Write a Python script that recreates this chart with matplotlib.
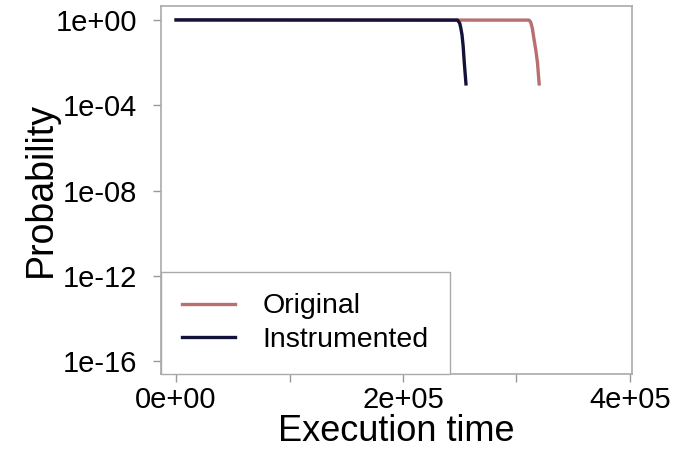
import matplotlib
matplotlib.use("Agg")
import matplotlib.pyplot as plt

plt.rcParams['font.family'] = ['Liberation Sans', 'DejaVu Sans']

# survival curves
orig_t = [0, 3.11e5, 3.125e5, 3.14e5, 3.155e5, 3.17e5, 3.185e5, 3.20e5]
orig_p = [1.0, 0.98, 0.8, 0.4, 0.12, 0.04, 0.01, 0.001]
instr_t = [0, 2.48e5, 2.50e5, 2.51e5, 2.52e5, 2.53e5, 2.54e5, 2.555e5]
instr_p = [1.0, 0.98, 0.7, 0.4, 0.2, 0.06, 0.01, 0.001]

xticks = [0, 1e5, 2e5, 3e5, 4e5]
xlabels = ['0e+00', '', '2e+05', '', '4e+05']
yticks = [1e0, 1e-4, 1e-8, 1e-12, 1e-16]
ylabels = ['1e+00', '1e-04', '1e-08', '1e-12', '1e-16']

fig = plt.figure(figsize=(6.74, 4.5), dpi=100)
ax = fig.add_axes([0.239, 0.169, 0.699, 0.818])

ax.plot(orig_t, orig_p, color='#b96f6f', lw=2.4, label='Original')
ax.plot(instr_t, instr_p, color='#12123a', lw=2.4, label='Instrumented')

ax.set_yscale('log')
ax.set_xlim(-13200, 402000)
ax.set_ylim(10**-16.6, 10**0.66)
ax.set_xticks(xticks)
ax.set_xticklabels(xlabels)
ax.set_yticks(yticks)
ax.set_yticklabels(ylabels)
ax.minorticks_off()
ax.tick_params(labelsize=21, color='#999999', length=6, width=1)
ax.tick_params(axis='y', pad=11)
ax.tick_params(axis='x', pad=3)

for s in ax.spines.values():
    s.set_color('#aaaaaa')
    s.set_linewidth(1.2)

ax.set_xlabel('Execution time', fontsize=26, labelpad=0)
ax.set_ylabel('Probability', fontsize=27, labelpad=-2)

leg = ax.legend(loc='lower left', bbox_to_anchor=(0, 0), borderaxespad=0,
                fontsize=20.5, handlelength=1.86, handletextpad=0.95,
                labelspacing=0.25, borderpad=0.75, fancybox=False,
                edgecolor='#aaaaaa', framealpha=1)
leg.get_frame().set_linewidth(1.0)

fig.savefig('out.png', dpi=100)
